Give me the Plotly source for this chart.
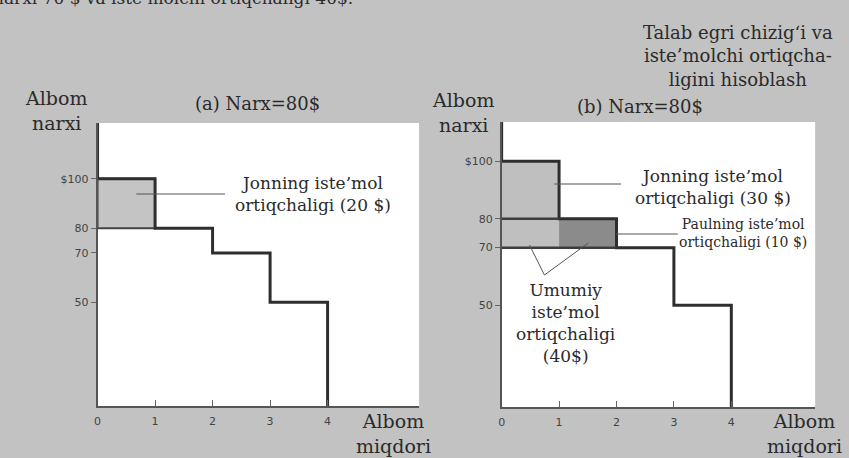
import plotly.graph_objects as go

# demand steps: album number and the price each buyer would pay
quantity = [1, 2, 3, 4]
price = [100, 80, 70, 50]
tick_text = ['$100', '80', '70', '50']
price_a = 80      # market price in panel (a)
price_b = 70      # lower edge of shaded surplus in panel (b)
surplus = {'john_a': 20, 'john_b': 30, 'paul_b': 10, 'total_b': 40}

W, H = 849, 458
BG = '#c2c2c2'
INK = '#2e2e2e'
SERIF = 'DejaVu Serif'


def px(x):
    return x / W


def py(y):
    return 1 - y / H


# axis ranges (the book's axes do not start at zero)
ranges = {
    'a': dict(x=[0, 5.59], y=[8, 122.6], xdom=[px(94), px(417)], ydom=[py(406), py(123)]),
    'b': dict(x=[0, 5.46], y=[14.7, 113.6], xdom=[px(500), px(815)], ydom=[py(407), py(122)]),
}

fig = go.Figure()

for key, xa, ya in [('a', 'x', 'y'), ('b', 'x2', 'y2')]:
    top = ranges[key]['y'][1]
    fig.add_trace(go.Scatter(
        x=[0, 0] + quantity, y=[top] + price + [0],
        mode='lines', line=dict(color=INK, width=3, shape='hv'),
        xaxis=xa, yaxis=ya, showlegend=False, hoverinfo='skip'))

shapes = []
# panel (a): John's surplus above price 80
shapes.append(dict(type='rect', xref='x', yref='y', x0=0, x1=quantity[0], y0=price_a, y1=price[0],
                   fillcolor='#c4c4c4', line=dict(color='#444', width=2), layer='below'))
# panel (b): John's and Paul's surplus above price 70
shapes.append(dict(type='rect', xref='x2', yref='y2', x0=0, x1=quantity[0], y0=price_b, y1=price[0],
                   fillcolor='#bfbfbf', line=dict(width=0), layer='below'))
shapes.append(dict(type='rect', xref='x2', yref='y2', x0=quantity[0], x1=quantity[1], y0=price_b, y1=price[1],
                   fillcolor='#8b8b8b', line=dict(width=0), layer='below'))
shapes.append(dict(type='line', xref='x2', yref='y2', x0=0, x1=quantity[0], y0=price[1], y1=price[1],
                   line=dict(color='#3c3c3c', width=2.5)))
shapes.append(dict(type='line', xref='x2', yref='y2', x0=0, x1=quantity[1], y0=price_b, y1=price_b,
                   line=dict(color='#3c3c3c', width=2.5)))

# pointer lines
for (x0, y0, x1, y1) in [(133, 194, 222, 194), (553, 184, 620, 184), (615, 234, 677, 234),
                         (528, 245, 543, 275), (543, 275, 587, 243)]:
    shapes.append(dict(type='line', xref='paper', yref='paper', x0=px(x0), y0=py(y0), x1=px(x1), y1=py(y1),
                       line=dict(color='#555', width=1)))

annotations = []


def note(text, x, y, size=17, color='#2a2a2a'):
    annotations.append(dict(text=text, x=px(x), y=py(y), xref='paper', yref='paper',
                            showarrow=False, xanchor='center', yanchor='middle',
                            font=dict(family=SERIF, size=size, color=color)))


note("narxi 70 $ va iste’molchi ortiqchaligi 40$.", 170, -2, size=17)
note("Talab egri chizig‘i va<br>iste’molchi ortiqcha-<br>ligini hisoblash", 737, 56, size=18)
note("Albom<br>narxi", 52, 110, size=19)
note("Albom<br>narxi", 461, 112, size=19)
note("(a) Narx=80$", 255, 104, size=18)
note("(b) Narx=80$", 639, 106, size=18)
note("Albom<br>miqdori", 391, 433, size=19)
note("Albom<br>miqdori", 804, 433, size=19)
note(f"Jonning iste’mol<br>ortiqchaligi ({surplus['john_a']} $)", 310, 194)
note(f"Jonning iste’mol<br>ortiqchaligi ({surplus['john_b']} $)", 712, 187)
note(f"Paulning iste’mol<br>ortiqchaligi ({surplus['paul_b']} $)", 743, 233, size=14)
note(f"Umumiy<br>iste’mol<br>ortiqchaligi<br>({surplus['total_b']}$)", 565, 323)

tick_font = dict(family='DejaVu Sans', size=11, color='#444')


def xaxis_cfg(key):
    return dict(domain=ranges[key]['xdom'], range=ranges[key]['x'], showgrid=False, zeroline=False,
                showline=True, linecolor='#555', linewidth=1.5, ticks='inside', ticklen=6,
                tickcolor='#666', tickvals=[0] + quantity, tickfont=tick_font,
                ticklabelstandoff=4, fixedrange=True)


def yaxis_cfg(key, anchor):
    return dict(domain=ranges[key]['ydom'], range=ranges[key]['y'], showgrid=False, zeroline=False,
                showline=True, linecolor='#555', linewidth=1.5, ticks='outside', ticklen=5,
                tickcolor='#666', tickvals=price, ticktext=tick_text, tickfont=tick_font,
                anchor=anchor, fixedrange=True)


fig.update_layout(
    width=W, height=H, margin=dict(l=0, r=0, t=0, b=0),
    paper_bgcolor=BG, plot_bgcolor='white',
    xaxis=xaxis_cfg('a'), yaxis=yaxis_cfg('a', 'x'),
    xaxis2=dict(xaxis_cfg('b'), anchor='y2'), yaxis2=yaxis_cfg('b', 'x2'),
    shapes=shapes, annotations=annotations, showlegend=False,
)
fig.update_layout(xaxis=dict(anchor='y'))

# the page's default body margin would shift the figure by 8px
fig.write_html("out.html", config={'displayModeBar': False},
               post_script="document.body.style.margin='0';")
